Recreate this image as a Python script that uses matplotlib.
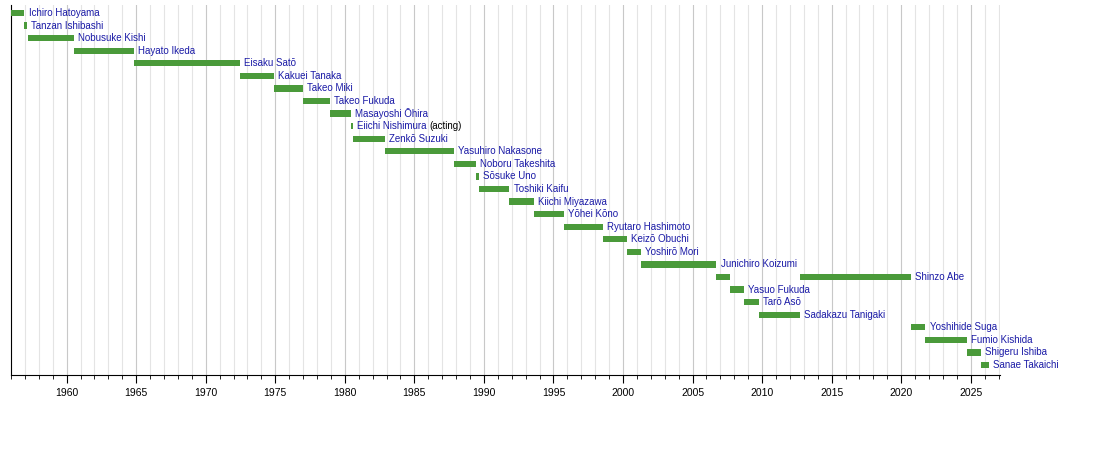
import matplotlib.pyplot as plt
from matplotlib.ticker import MultipleLocator
from matplotlib.transforms import offset_copy

names = ['Ichiro Hatoyama', 'Tanzan Ishibashi', 'Nobusuke Kishi', 'Hayato Ikeda', 'Eisaku Satō',
         'Kakuei Tanaka', 'Takeo Miki', 'Takeo Fukuda', 'Masayoshi Ōhira', 'Eiichi Nishimura',
         'Zenkō Suzuki', 'Yasuhiro Nakasone', 'Noboru Takeshita', 'Sōsuke Uno', 'Toshiki Kaifu',
         'Kiichi Miyazawa', 'Yōhei Kōno', 'Ryutaro Hashimoto', 'Keizō Obuchi', 'Yoshirō Mori',
         'Junichiro Koizumi', 'Shinzo Abe', 'Yasuo Fukuda', 'Tarō Asō', 'Sadakazu Tanigaki',
         'Yoshihide Suga', 'Fumio Kishida', 'Shigeru Ishiba', 'Sanae Takaichi']
# terms as (start, end) in decimal years; Abe has two
terms = [[(1956.0, 1956.96)], [(1956.96, 1957.15)], [(1957.2, 1960.55)], [(1960.55, 1964.86)],
         [(1964.86, 1972.43)], [(1972.43, 1974.93)], [(1974.93, 1976.98)], [(1976.98, 1978.9)],
         [(1978.9, 1980.45)], [(1980.45, 1980.6)], [(1980.6, 1982.9)], [(1982.9, 1987.83)],
         [(1987.83, 1989.45)], [(1989.45, 1989.62)], [(1989.62, 1991.83)], [(1991.83, 1993.6)],
         [(1993.6, 1995.75)], [(1995.75, 1998.55)], [(1998.55, 2000.3)], [(2000.3, 2001.3)],
         [(2001.3, 2006.72)], [(2006.72, 2007.72), (2012.72, 2020.7)], [(2007.72, 2008.72)],
         [(2008.72, 2009.75)], [(2009.75, 2012.72)], [(2020.7, 2021.75)], [(2021.75, 2024.75)],
         [(2024.75, 2025.76)], [(2025.76, 2026.3)]]

plt.rcParams['font.family'] = ['Liberation Sans', 'DejaVu Sans']
fig = plt.figure(figsize=(11, 4.54), dpi=100)
ax = fig.add_axes([0.01, 0.174, 0.899, 0.815])

for i, (name, tl) in enumerate(zip(names, terms)):
    for s, e in tl:
        ax.barh(i, e - s, left=s, height=0.5, color='#4a9a3a', zorder=3)
    end = tl[-1][1]
    t = ax.text(end + 0.3, i, name, color='#1a1aa6', fontsize=7, va='center', zorder=4)
    if name == 'Eiichi Nishimura':
        fig.canvas.draw()
        w = t.get_window_extent().width
        tr = offset_copy(ax.transData, fig=fig, x=w * 72 / 100 + 2, y=0, units='points')
        ax.text(end + 0.3, i, '(acting)', color='black', fontsize=7, va='center',
                transform=tr, zorder=4)

ax.set_xlim(1956, 2027.1)
ax.set_ylim(28.8, -0.64)
ax.xaxis.set_major_locator(MultipleLocator(5))
ax.xaxis.set_minor_locator(MultipleLocator(1))
ax.grid(True, which='major', axis='x', color='#c8c8c8', lw=0.8, zorder=0)
ax.grid(True, which='minor', axis='x', color='#e4e4e4', lw=0.8, zorder=0)
ax.set_yticks([])
ax.tick_params(axis='x', which='major', length=6, direction='out', labelsize=7.5)
ax.tick_params(axis='x', which='minor', length=3, direction='out')
for sp in ['top', 'right']:
    ax.spines[sp].set_visible(False)
plt.savefig('out.png')
